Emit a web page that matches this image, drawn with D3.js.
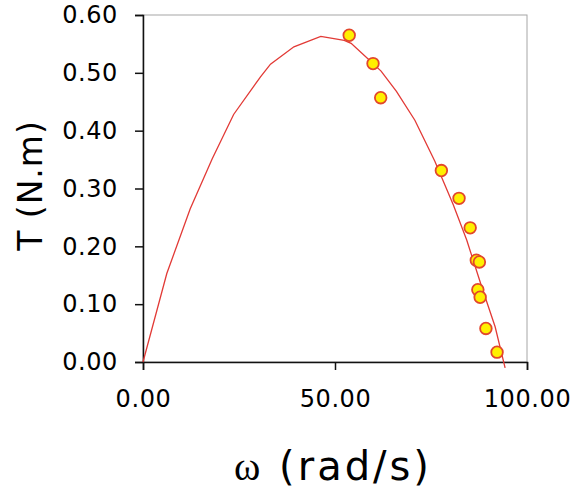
<!DOCTYPE html>
<html>
<head>
<meta charset="utf-8">
<script src="https://cdn.jsdelivr.net/npm/d3@7"></script>
<style>
  body { margin: 0; background: #fff; }
  svg { display: block; font-family: "DejaVu Sans", Verdana, sans-serif; }
</style>
</head>
<body>
<div id="chart"></div>
<script>
// measured points (omega, torque)
const measOmega  = [53.7, 59.9, 61.9, 77.7, 82.3, 85.2, 86.8, 87.6, 87.2, 87.8, 89.3, 92.2];
const measTorque = [0.565, 0.516, 0.457, 0.331, 0.283, 0.232, 0.176, 0.173, 0.125, 0.112, 0.058, 0.017];

// fitted curve
const fitOmega  = [0, 6.2, 12.3, 18.0, 23.6, 30.6, 33.2, 39.3, 46.3, 52.4, 54.2, 59.9, 62.0, 66.0, 70.8, 76.0, 80.8, 84.3, 88.2, 91.7, 94.3];
const fitTorque = [0, 0.153, 0.265, 0.351, 0.428, 0.493, 0.515, 0.545, 0.563, 0.556, 0.551, 0.516, 0.503, 0.468, 0.418, 0.347, 0.272, 0.211, 0.130, 0.061, -0.010];

const xTicks = [0, 50, 100];
const yTicks = [0, 0.1, 0.2, 0.3, 0.4, 0.5, 0.6];

const W = 573, H = 493;
const margin = { top: 15, right: 46, bottom: 131, left: 143 },
      width = W - margin.left - margin.right,
      height = H - margin.top - margin.bottom;

const svg = d3.select("#chart").append("svg")
    .attr("width", W)
    .attr("height", H);

const g = svg.append("g")
    .attr("transform", "translate(" + margin.left + "," + margin.top + ")");

const x = d3.scaleLinear().domain([0, 100]).range([0, width]);
const y = d3.scaleLinear().domain([0, 0.6]).range([height, 0]);

// plot frame (grey top/right)
g.append("rect")
    .attr("x", 0).attr("y", 0)
    .attr("width", width).attr("height", height)
    .attr("fill", "none")
    .attr("stroke", "#a6a6a6")
    .attr("stroke-width", 1);

const yAxis = g.append("g")
    .call(d3.axisLeft(y).tickValues(yTicks).tickSize(8).tickPadding(17).tickFormat(d3.format(".2f")));
const xAxis = g.append("g")
    .attr("transform", "translate(0," + height + ")")
    .call(d3.axisBottom(x).tickValues(xTicks).tickSize(8).tickPadding(20).tickFormat(d3.format(".2f")));

[xAxis, yAxis].forEach(a => {
    a.select(".domain").attr("stroke", "#111").attr("stroke-width", 1.5);
    a.selectAll(".tick line").attr("stroke", "#111").attr("stroke-width", 1.5);
    a.selectAll("text").attr("fill", "#000").style("font-size", "24px")
        .style("letter-spacing", "0.6px")
        .style("font-family", "'DejaVu Sans', Verdana, sans-serif");
});

// fitted curve
const fit = fitOmega.map((w, i) => ({ w: w, t: fitTorque[i] }));
const line = d3.line().x(d => x(d.w)).y(d => y(d.t));
g.append("path")
    .datum(fit)
    .attr("fill", "none")
    .attr("stroke", "#e23a36")
    .attr("stroke-width", 1.3)
    .attr("d", line);

// measured markers
const meas = measOmega.map((w, i) => ({ w: w, t: measTorque[i] }));
g.selectAll("circle.pt")
    .data(meas)
    .enter()
    .append("circle")
    .attr("class", "pt")
    .attr("cx", d => x(d.w))
    .attr("cy", d => y(d.t))
    .attr("r", 5.8)
    .attr("fill", "#fff000")
    .attr("stroke", "#e2472c")
    .attr("stroke-width", 1.8);

// axis titles
svg.append("text")
    .attr("transform", "translate(42," + (margin.top + height / 2 - 3) + ") rotate(-90)")
    .attr("text-anchor", "middle")
    .style("font-size", "33px")
    .style("letter-spacing", "1px")
    .attr("fill", "#000")
    .text("T (N.m)");

const xt = svg.append("text")
    .attr("x", 333)
    .attr("y", 480)
    .attr("text-anchor", "middle")
    .style("font-size", "40px")
    .style("letter-spacing", "3px")
    .attr("fill", "#000");
xt.append("tspan").style("font-family", "'Liberation Serif', serif").text("ω");
xt.append("tspan").text(" (rad/s)");
</script>
</body>
</html>
